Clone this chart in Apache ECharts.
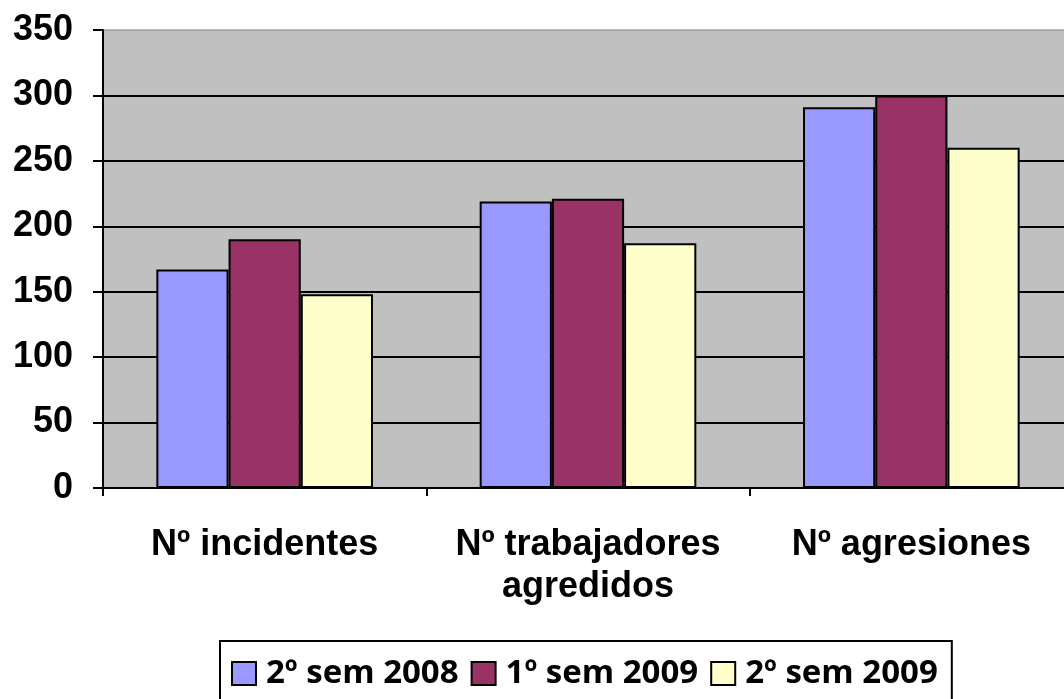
<!DOCTYPE html>
<html>
<head>
<meta charset="utf-8">
<script src="https://cdn.jsdelivr.net/npm/echarts@6/dist/echarts.min.js"></script>
<style>
  html, body { margin: 0; padding: 0; background: #fff; overflow: hidden; }
  #chart { width: 1064px; height: 699px; }
</style>
</head>
<body>
<div id="chart"></div>
<script>
// datos
var categories = ['Nº incidentes', 'Nº trabajadores\nagredidos', 'Nº agresiones'];
var seriesNames = ['2º sem 2008', '1º sem 2009', '2º sem 2009'];
var sem2008b = [167, 219, 291];
var sem2009a = [190, 221, 300];
var sem2009b = [148, 187, 260];
var yTicks = [0, 50, 100, 150, 200, 250, 300, 350];

var colors = ['#9999FF', '#993366', '#FFFFCC'];
var values = [sem2008b, sem2009a, sem2009b];

var chart = echarts.init(document.getElementById('chart'));

var series = seriesNames.map(function (name, i) {
  return {
    name: name,
    type: 'bar',
    data: values[i],
    barGap: '0%',
    barCategoryGap: '33%',
    itemStyle: { color: colors[i], borderColor: '#000', borderWidth: 2 }
  };
});

chart.setOption({
  animation: false,
  grid: {
    left: 103, top: 30, bottom: 211,
    width: 970,
    outerBoundsMode: 'none',
    containLabel: false,
    show: true,
    backgroundColor: '#C0C0C0',
    borderColor: '#808080',
    borderWidth: 1
  },
  legend: {
    data: seriesNames,
    left: 220,
    top: 641,
    padding: [16, 14, 40, 11],
    borderColor: '#000',
    borderWidth: 2,
    itemWidth: 24,
    itemHeight: 23,
    itemGap: 12,
    icon: 'rect',
    itemStyle: { borderColor: '#000', borderWidth: 2 },
    textStyle: {
      fontFamily: 'Open Sans, sans-serif',
      fontWeight: 'bold',
      fontSize: 33,
      color: '#000',
      padding: [0, 0, 0, 5]
    }
  },
  xAxis: {
    type: 'category',
    data: categories,
    axisLine: { lineStyle: { color: '#000', width: 2 } },
    axisTick: { show: true, length: 8, lineStyle: { color: '#000', width: 2 } },
    axisLabel: {
      interval: 0,
      color: '#000',
      fontFamily: 'Liberation Sans, Arial, sans-serif',
      fontWeight: 'bold',
      fontSize: 36,
      lineHeight: 42,
      margin: 36
    }
  },
  yAxis: {
    type: 'value',
    min: yTicks[0],
    max: yTicks[yTicks.length - 1],
    interval: 50,
    axisLine: { show: true, lineStyle: { color: '#000', width: 2 } },
    axisTick: { show: true, length: 10, lineStyle: { color: '#000', width: 2 } },
    axisLabel: {
      color: '#000',
      fontFamily: 'Liberation Sans, Arial, sans-serif',
      fontWeight: 'bold',
      fontSize: 36,
      margin: 30
    },
    splitLine: { show: true, showMaxLine: false, lineStyle: { color: '#000', width: 2 } }
  },
  series: series
});
</script>
</body>
</html>
